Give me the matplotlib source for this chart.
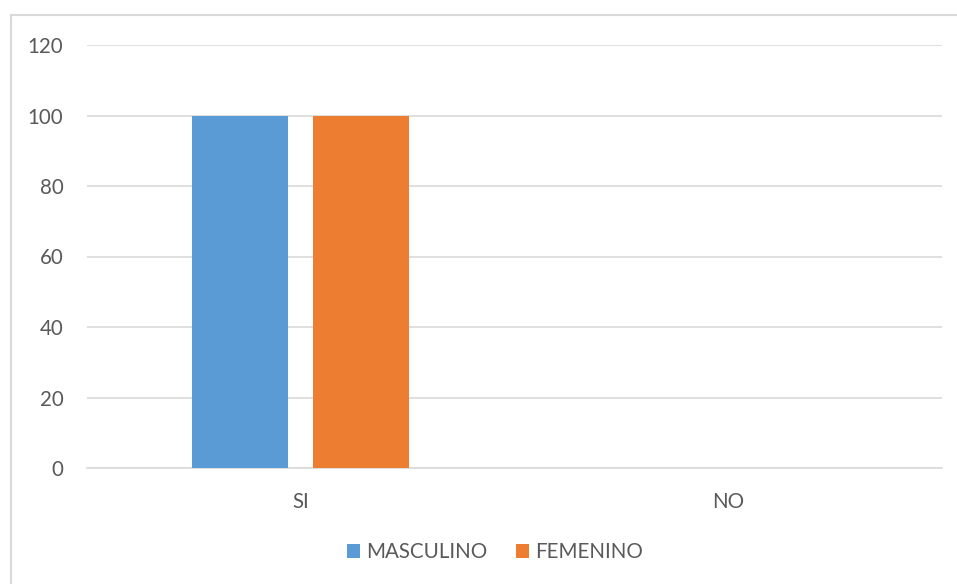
import matplotlib
matplotlib.use("Agg")
import matplotlib.pyplot as plt
from matplotlib.lines import Line2D
from matplotlib.patches import Patch
import numpy as np

categories = ["SI", "NO"]
series_names = ["MASCULINO", "FEMENINO"]
masculino = [100, 0]
femenino = [100, 0]
yticks = [0, 20, 40, 60, 80, 100, 120]

colors = ["#5B9BD5", "#ED7D31"]
text_color = "#595959"
grid_color = "#D9D9D9"

plt.rcParams['font.family'] = ['Lato', 'DejaVu Sans']

W, H = 957, 584
fig = plt.figure(figsize=(W / 100, H / 100), dpi=100)
ax = fig.add_axes([87 / W, 1 - 468 / H, (942 - 87) / W, (468 - 45) / H])

x = np.arange(len(categories))
width = 0.2246
offset = 0.1415
ax.bar(x - offset, masculino, width, color=colors[0], label=series_names[0], zorder=3)
ax.bar(x + offset, femenino, width, color=colors[1], label=series_names[1], zorder=3)

ax.set_xlim(-0.5, len(categories) - 0.5)
ax.set_ylim(0, 120)
ax.set_yticks(yticks)
ax.set_xticks(x)
ax.set_xticklabels(categories)
ax.yaxis.grid(True, color=grid_color, linewidth=1.2, zorder=0)
ax.set_axisbelow(True)
for s in ["top", "right", "left"]:
    ax.spines[s].set_visible(False)
ax.spines["bottom"].set_color(grid_color)
ax.spines["bottom"].set_linewidth(1.2)
ax.tick_params(axis="both", length=0, colors=text_color, labelsize=14.8)
ax.tick_params(axis="y", pad=17)
ax.tick_params(axis="x", pad=17)

handles = [Patch(facecolor=c, label=n) for c, n in zip(colors, series_names)]
fig.legend(handles=handles, loc="center", bbox_to_anchor=(495 / W, 1 - 552 / H),
           ncol=2, frameon=False, fontsize=14.8, labelcolor=text_color,
           handlelength=0.65, handleheight=0.65, handletextpad=0.3, columnspacing=1.35)

# chart border (left and top visible)
fig.add_artist(Line2D([10.5 / W, 10.5 / W], [0, 1 - 15 / H], transform=fig.transFigure,
                      color=grid_color, linewidth=1.5))
fig.add_artist(Line2D([10.5 / W, 1], [1 - 15 / H, 1 - 15 / H], transform=fig.transFigure,
                      color=grid_color, linewidth=1.5))

fig.savefig("out.png", dpi=100)
